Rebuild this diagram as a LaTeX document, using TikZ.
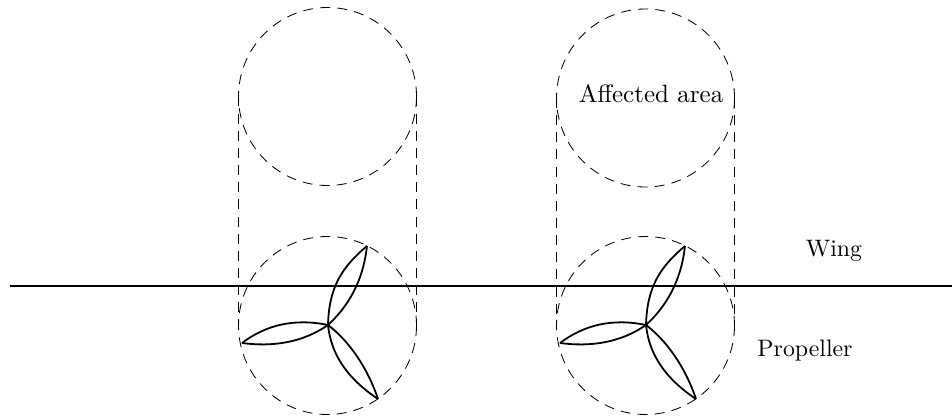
\documentclass[tikz,border=0pt]{standalone}
\begin{document}
\begin{tikzpicture}[x=0.42pt,y=-0.42pt,
  disc/.style={circle,draw,dash pattern=on 4.2pt off 3pt,line width=0.35pt,minimum size=74.76pt,inner sep=0pt,outer sep=0pt},
  guide/.style={dash pattern=on 4.2pt off 3pt,line width=0.35pt},
  blade/.style={line width=0.75pt,line join=round},
  wing/.style={line width=0.85pt},
  lab/.style={inner sep=0pt,font=\fontsize{10}{12}\selectfont}]
\useasboundingbox (0,0) rectangle (952,419);
\node[disc] (t1) at (327.5,96.5) {};
\node[disc] (b1) at (327.5,325.5) {};
\node[disc] (t2) at (645.5,98) {};
\node[disc] (b2) at (645.5,325.5) {};
\draw[guide] (t1.west) -- (b1.west);
\draw[guide] (t1.east) -- (b1.east);
\draw[guide] (t2.west) -- (b2.west);
\draw[guide] (t2.east) -- (b2.east);
\coordinate (wl) at (10,286);
\coordinate (wr) at (952,286);
\draw[wing] (wl) -- (wr);
\foreach \h in {328,646}{
 \begin{scope}[shift={(\h,325)}]
  \coordinate (hub) at (0,0);
  \coordinate (tipa) at (39,-79);
  \coordinate (tipb) at (-86,18);
  \coordinate (tipc) at (50,74);
  \draw[blade] (hub) .. controls (1,-38) and (14,-58) .. (tipa);
  \draw[blade] (hub) .. controls (26,-24) and (36,-52) .. (tipa);
  \draw[blade] (hub) .. controls (-34,-7) and (-62,0) .. (tipb);
  \draw[blade] (hub) .. controls (-26,18) and (-56,22) .. (tipb);
  \draw[blade] (hub) .. controls (3,30) and (20,54) .. (tipc);
  \draw[blade] (hub) .. controls (26,20) and (42,50) .. (tipc);
 \end{scope}
}
\node[lab,font=\fontsize{10.5}{12}\selectfont] (aff) at (651,94) {Affected area};
\node[lab] (w) at (834,251) {Wing};
\node[lab] (p) at (805,351) {Propeller};
\end{tikzpicture}
\end{document}
